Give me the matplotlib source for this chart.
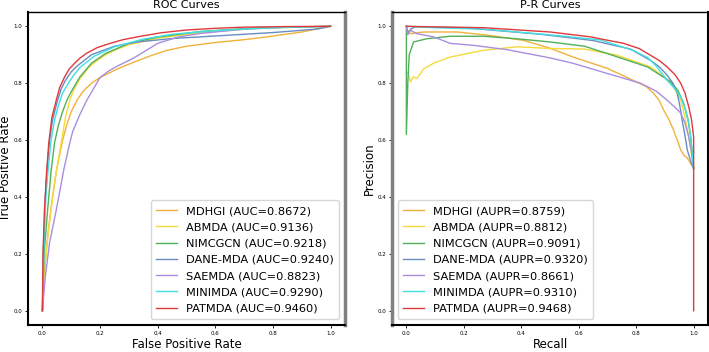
"""
ROC and P-R curves for the miRNA-disease association baselines vs PATMDA.
"""
import matplotlib

matplotlib.use("Agg")
import matplotlib.pyplot as plt

plt.rcParams.update(
    {
        "font.family": "DejaVu Sans",
        "axes.linewidth": 1.0,
    }
)

methods = ["MDHGI", "ABMDA", "NIMCGCN", "DANE-MDA", "SAEMDA", "MINIMDA", "PATMDA"]
colors = ["#f0b23a", "#f6d93c", "#52b05a", "#6b8cc0", "#a98ee0", "#3fe0e0", "#e0393b"]
auc = [0.8672, 0.9136, 0.9218, 0.9240, 0.8823, 0.9290, 0.9460]
aupr = [0.8759, 0.8812, 0.9091, 0.9320, 0.8661, 0.9310, 0.9468]

# ROC points (FPR, TPR)
fpr_mdhgi = [0, 0.008, 0.02, 0.035, 0.05, 0.07, 0.085, 0.1, 0.12, 0.14, 0.17, 0.2, 0.26, 0.32, 0.38, 0.43, 0.5, 0.6, 0.7, 0.78, 0.9, 1.0]
tpr_mdhgi = [0, 0.15, 0.28, 0.4, 0.5, 0.6, 0.655, 0.7, 0.74, 0.77, 0.8, 0.82, 0.85, 0.875, 0.898, 0.915, 0.93, 0.943, 0.953, 0.963, 0.98, 1.0]
fpr_abmda = [0, 0.008, 0.02, 0.03, 0.045, 0.065, 0.08, 0.095, 0.11, 0.13, 0.16, 0.19, 0.22, 0.26, 0.3, 0.4, 0.55, 0.75, 1.0]
tpr_abmda = [0, 0.15, 0.27, 0.354, 0.47, 0.59, 0.68, 0.74, 0.78, 0.815, 0.855, 0.88, 0.9, 0.92, 0.935, 0.958, 0.978, 0.993, 1.0]
fpr_nimcgcn = [0, 0.006, 0.018, 0.03, 0.042, 0.055, 0.07, 0.085, 0.1, 0.13, 0.17, 0.22, 0.3, 0.4, 0.55, 0.75, 1.0]
tpr_nimcgcn = [0, 0.2, 0.354, 0.49, 0.59, 0.65, 0.7, 0.74, 0.77, 0.822, 0.87, 0.905, 0.94, 0.962, 0.982, 0.995, 1.0]
fpr_dane = [0, 0.003, 0.01, 0.018, 0.025, 0.035, 0.05, 0.065, 0.08, 0.1, 0.12, 0.17, 0.25, 0.33, 0.45, 0.6, 0.8, 0.95, 1.0]
tpr_dane = [0, 0.2, 0.4, 0.52, 0.6, 0.67, 0.73, 0.78, 0.81, 0.84, 0.86, 0.9, 0.93, 0.945, 0.957, 0.966, 0.978, 0.99, 1.0]
fpr_saemda = [0, 0.01, 0.025, 0.048, 0.075, 0.095, 0.105, 0.13, 0.154, 0.18, 0.2, 0.23, 0.26, 0.316, 0.36, 0.4, 0.47, 0.55, 0.7, 0.85, 1.0]
tpr_saemda = [0, 0.12, 0.24, 0.354, 0.5, 0.59, 0.63, 0.69, 0.74, 0.785, 0.82, 0.843, 0.86, 0.888, 0.915, 0.94, 0.962, 0.975, 0.99, 0.997, 1.0]
fpr_minimda = [0, 0.004, 0.012, 0.02, 0.03, 0.042, 0.055, 0.07, 0.09, 0.11, 0.13, 0.18, 0.25, 0.35, 0.45, 0.6, 0.8, 1.0]
tpr_minimda = [0, 0.2, 0.4, 0.5, 0.6, 0.67, 0.72, 0.765, 0.8, 0.83, 0.855, 0.895, 0.928, 0.955, 0.972, 0.985, 0.995, 1.0]
fpr_patmda = [0, 0.002, 0.007, 0.014, 0.022, 0.033, 0.048, 0.06, 0.077, 0.093, 0.112, 0.13, 0.153, 0.19, 0.235, 0.28, 0.33, 0.41, 0.5, 0.6, 0.7, 0.85, 1.0]
tpr_patmda = [0, 0.2, 0.354, 0.48, 0.59, 0.68, 0.74, 0.785, 0.822, 0.85, 0.87, 0.888, 0.905, 0.925, 0.94, 0.953, 0.963, 0.977, 0.987, 0.993, 0.997, 0.999, 1.0]

# P-R points (recall, precision)
rec_mdhgi = [0, 0.005, 0.014, 0.06, 0.177, 0.29, 0.41, 0.5, 0.58, 0.70, 0.80, 0.835, 0.86, 0.88, 0.896, 0.915, 0.93, 0.945, 0.955, 0.968, 0.978, 1.0]
prec_mdhgi = [1.0, 0.985, 0.974, 0.98, 0.98, 0.968, 0.95, 0.923, 0.892, 0.852, 0.805, 0.788, 0.765, 0.74, 0.705, 0.67, 0.635, 0.595, 0.565, 0.545, 0.537, 0.5]
rec_abmda = [0, 0.005, 0.014, 0.024, 0.037, 0.06, 0.094, 0.153, 0.27, 0.386, 0.5, 0.62, 0.735, 0.85, 0.9, 0.93, 0.955, 0.97, 0.985, 1.0]
prec_abmda = [0.835, 0.84, 0.805, 0.822, 0.817, 0.85, 0.87, 0.892, 0.916, 0.928, 0.922, 0.92, 0.898, 0.857, 0.82, 0.787, 0.74, 0.68, 0.6, 0.5]
rec_nimcgcn = [0, 0, 0.005, 0.01, 0.025, 0.07, 0.153, 0.27, 0.386, 0.5, 0.62, 0.70, 0.84, 0.92, 0.945, 0.965, 0.98, 0.99, 1.0]
prec_nimcgcn = [1.0, 0.62, 0.8, 0.9, 0.945, 0.956, 0.965, 0.965, 0.956, 0.945, 0.93, 0.904, 0.857, 0.805, 0.775, 0.73, 0.675, 0.61, 0.5]
rec_dane = [0, 0.005, 0.015, 0.03, 0.2, 0.467, 0.65, 0.78, 0.85, 0.88, 0.908, 0.928, 0.943, 0.952, 0.96, 0.97, 0.978, 0.99, 1.0]
prec_dane = [1.0, 0.975, 0.99, 0.998, 0.995, 0.972, 0.95, 0.92, 0.88, 0.858, 0.828, 0.8, 0.765, 0.72, 0.67, 0.615, 0.565, 0.525, 0.5]
rec_saemda = [0, 0.005, 0.014, 0.037, 0.094, 0.153, 0.234, 0.35, 0.5, 0.58, 0.70, 0.815, 0.87, 0.908, 0.935, 0.955, 0.97, 0.983, 0.993, 1.0]
prec_saemda = [1.0, 0.97, 0.986, 0.974, 0.963, 0.94, 0.933, 0.918, 0.889, 0.87, 0.834, 0.8, 0.772, 0.74, 0.715, 0.695, 0.66, 0.61, 0.555, 0.5]
rec_minimda = [0, 0.1, 0.27, 0.5, 0.676, 0.79, 0.84, 0.87, 0.908, 0.935, 0.955, 0.97, 0.983, 0.993, 1.0]
prec_minimda = [1.0, 0.995, 0.99, 0.97, 0.952, 0.915, 0.89, 0.86, 0.81, 0.78, 0.752, 0.71, 0.66, 0.58, 0.5]
rec_patmda = [0, 0.1, 0.27, 0.5, 0.64, 0.756, 0.81, 0.85, 0.88, 0.908, 0.935, 0.955, 0.97, 0.983, 0.993, 1.0, 1.0, 1.0]
prec_patmda = [1.0, 0.998, 0.995, 0.98, 0.963, 0.94, 0.922, 0.898, 0.88, 0.857, 0.83, 0.8, 0.765, 0.717, 0.67, 0.61, 0.506, 0.0]

roc = [
    (fpr_mdhgi, tpr_mdhgi),
    (fpr_abmda, tpr_abmda),
    (fpr_nimcgcn, tpr_nimcgcn),
    (fpr_dane, tpr_dane),
    (fpr_saemda, tpr_saemda),
    (fpr_minimda, tpr_minimda),
    (fpr_patmda, tpr_patmda),
]
pr = [
    (rec_mdhgi, prec_mdhgi),
    (rec_abmda, prec_abmda),
    (rec_nimcgcn, prec_nimcgcn),
    (rec_dane, prec_dane),
    (rec_saemda, prec_saemda),
    (rec_minimda, prec_minimda),
    (rec_patmda, prec_patmda),
]


def style_axes(ax, inner):
    ax.tick_params(labelsize=4, length=2, width=0.6, pad=2)
    ax.spines["top"].set_linewidth(1.0)
    ax.spines["bottom"].set_linewidth(1.5)
    outer = "right" if inner == "left" else "left"
    ax.spines[outer].set_linewidth(1.5)
    ax.spines[inner].set_linewidth(2.5)
    ax.spines[inner].set_color("#808080")


fig = plt.figure(figsize=(7.09, 3.52), dpi=100)
ax1 = fig.add_axes([0.0395, 0.0767, 0.4471, 0.889])
ax2 = fig.add_axes([0.5529, 0.0767, 0.4457, 0.889])

for (x, y), name, c, a in zip(roc, methods, colors, auc):
    ax1.plot(x, y, color=c, linewidth=1.0, label=f"{name} (AUC={a:.4f})")
for (x, y), name, c, a in zip(pr, methods, colors, aupr):
    ax2.plot(x, y, color=c, linewidth=1.0, label=f"{name} (AUPR={a:.4f})")

ax1.set_title("ROC Curves", fontsize=8, pad=3)
ax1.set_xlabel("False Positive Rate", fontsize=8.5, labelpad=1.5)
ax1.set_ylabel("True Positive Rate", fontsize=8.5, labelpad=1.5)
ax2.set_title("P-R Curves", fontsize=8, pad=3)
ax2.set_xlabel("Recall", fontsize=8.5, labelpad=1.5)
ax2.set_ylabel("Precision", fontsize=8.5, labelpad=1.5)

style_axes(ax1, "right")
style_axes(ax2, "left")

ax1.legend(loc="lower right", fontsize=8.2, labelspacing=0.55, handlelength=1.8,
           borderpad=0.5, framealpha=0.8)
ax2.legend(loc="lower left", fontsize=8.2, labelspacing=0.55, handlelength=1.8,
           borderpad=0.5, framealpha=0.8)

fig.savefig("out.png", dpi=100)
